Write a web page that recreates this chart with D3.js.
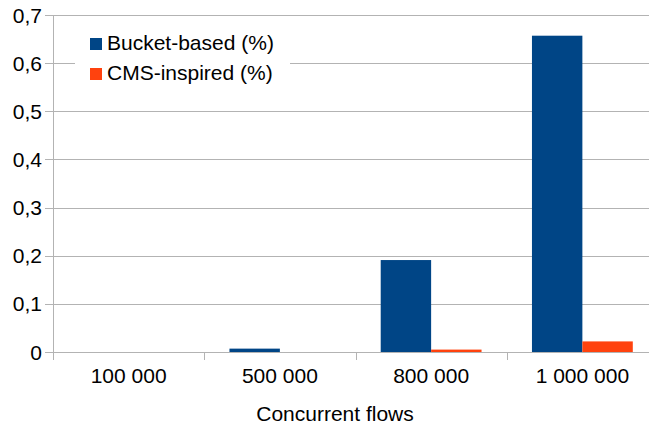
<!DOCTYPE html>
<html><head><meta charset="utf-8">
<script src="https://cdn.jsdelivr.net/npm/d3@7"></script>
<style>body{margin:0;background:#fff}svg{display:block}text{font-family:"Liberation Sans",Arial,sans-serif;fill:#000}</style>
</head><body><svg id="c" width="649" height="426"></svg>
<script>
const categories = ["100 000", "500 000", "800 000", "1 000 000"];
const seriesNames = ["Bucket-based (%)", "CMS-inspired (%)"];
const bucketBased = [0, 0.007, 0.191, 0.657];
const cmsInspired = [0, 0, 0.005, 0.022];
const yTicks = [0, 0.1, 0.2, 0.3, 0.4, 0.5, 0.6, 0.7];
const colors = ["#004586", "#ff420e"];
const xTitle = "Concurrent flows";

const svg = d3.select("#c");
const L = 53, R = 658, T = 15, B = 352;
const grid = "#b3b3b3";
const fs = 21;

const x = d3.scaleBand().domain(categories).range([L, R]).padding(0);
const xs = d3.scaleBand().domain(seriesNames).range([0, x.bandwidth()]).paddingInner(0).paddingOuter(0.5);
const y = d3.scaleLinear().domain([0, 0.7]).range([B, T]);
const fmt = v => d3.format(".1f")(v).replace(".", ",").replace(/^0,0$/, "0");

// gridlines + y ticks
svg.append("g").selectAll("line").data(yTicks).join("line")
  .attr("x1", L - 8).attr("x2", R).attr("y1", d => Math.round(y(d)) + 0.5).attr("y2", d => Math.round(y(d)) + 0.5)
  .attr("stroke", grid).attr("stroke-width", 1);
// y axis line
svg.append("line").attr("x1", L + 0.5).attr("x2", L + 0.5).attr("y1", T).attr("y2", B + 8).attr("stroke", grid);
// category ticks
const bounds = categories.map(c => x(c)).concat([R]);
svg.append("g").selectAll("line").data(bounds).join("line")
  .attr("x1", d => Math.round(d) + 0.5).attr("x2", d => Math.round(d) + 0.5)
  .attr("y1", B).attr("y2", B + 8).attr("stroke", grid);

// y labels
svg.append("g").selectAll("text").data(yTicks).join("text")
  .attr("x", 42).attr("y", d => y(d) + 7.5).attr("text-anchor", "end")
  .style("font-size", fs + "px").text(d => d === 0 ? "0" : fmt(d));

// bars
const data = [bucketBased, cmsInspired];
seriesNames.forEach((s, si) => {
  svg.append("g").selectAll("rect").data(categories).join("rect")
    .attr("x", c => x(c) + xs(s)).attr("width", xs.bandwidth())
    .attr("y", (c, i) => y(data[si][i])).attr("height", (c, i) => B - y(data[si][i]))
    .attr("fill", colors[si]);
});

// x labels
svg.append("g").selectAll("text").data(categories).join("text")
  .attr("x", c => x(c) + x.bandwidth() / 2).attr("y", 383).attr("text-anchor", "middle")
  .style("font-size", fs + "px").text(d => d);

svg.append("text").attr("x", 335).attr("y", 421).attr("text-anchor", "middle")
  .style("font-size", fs + "px").text(xTitle);

// legend
const lg = svg.append("g");
lg.append("rect").attr("x", 75).attr("y", 26).attr("width", 215).attr("height", 66).attr("fill", "#fff");
seriesNames.forEach((s, i) => {
  lg.append("rect").attr("x", 90).attr("y", 38 + i * 30).attr("width", 12).attr("height", 12).attr("fill", colors[i]);
  lg.append("text").attr("x", 107).attr("y", 50 + i * 30).style("font-size", fs + "px").text(s);
});
</script></body></html>
